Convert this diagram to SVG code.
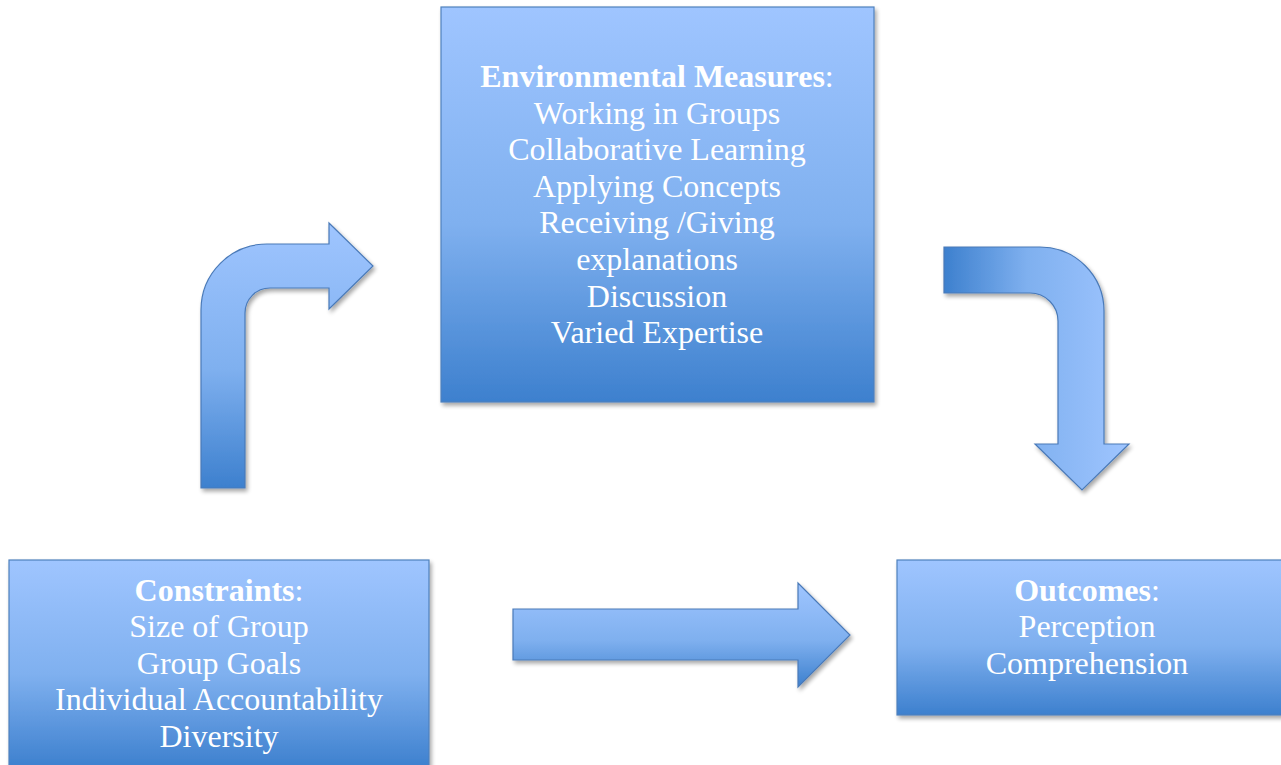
<svg xmlns="http://www.w3.org/2000/svg" width="1281" height="765" viewBox="0 0 1281 765">
  <defs>
    <linearGradient id="gradV" x1="0" y1="0" x2="0" y2="1">
      <stop offset="0" stop-color="#9fc5ff"/>
      <stop offset="0.55" stop-color="#7fb0ef"/>
      <stop offset="1" stop-color="#3d80ce"/>
    </linearGradient>
    <linearGradient id="gradH" x1="0" y1="0" x2="1" y2="0">
      <stop offset="0" stop-color="#3d80ce"/>
      <stop offset="0.45" stop-color="#7fb0ef"/>
      <stop offset="1" stop-color="#9fc5ff"/>
    </linearGradient>
    <filter id="shadow" x="-5%" y="-5%" width="115%" height="115%">
      <feGaussianBlur in="SourceAlpha" stdDeviation="2"/>
      <feOffset dx="2" dy="3" result="off"/>
      <feComponentTransfer><feFuncA type="linear" slope="0.35"/></feComponentTransfer>
      <feMerge><feMergeNode/><feMergeNode in="SourceGraphic"/></feMerge>
    </filter>
  </defs>
  <style>
    .box { fill: url(#gradV); stroke: #4f81bd; stroke-width: 1.2; filter: url(#shadow); }
    .arrow { stroke: #4a7ab8; stroke-width: 1.2; stroke-linejoin: miter; filter: url(#shadow); }
    .label { font-family: "Liberation Serif", "Times New Roman", serif; font-size: 32px; fill: #ffffff; text-anchor: middle; }
    .title { font-weight: bold; }
  </style>

  <rect width="1281" height="765" fill="#ffffff"/>

  <!-- connectors -->
  <g id="connectors">
    <path class="arrow" fill="url(#gradV)" d="M 201 488 L 201 310 A 66 66 0 0 1 267 244 L 329 244 L 329 223 L 373 266 L 329 309 L 329 288 L 270 288 A 25 25 0 0 0 245 313 L 245 488 Z"/>
    <path class="arrow" fill="url(#gradH)" d="M 944 247 L 1040 247 A 64 64 0 0 1 1104 311 L 1104 444 L 1129 444 L 1082 490 L 1035 444 L 1058 444 L 1058 321 A 28 28 0 0 0 1030 293 L 944 293 Z"/>
    <path class="arrow" fill="url(#gradV)" d="M 513 609 L 798 609 L 798 583 L 850 635 L 798 687 L 798 660 L 513 660 Z"/>
  </g>

  <!-- environmental measures -->
  <g id="node-environment">
    <rect class="box" x="441" y="7" width="433" height="395"/>
    <text class="label" x="657" y="87"><tspan class="title">Environmental Measures</tspan>:</text>
    <text class="label" x="657" y="124">Working in Groups</text>
    <text class="label" x="657" y="160">Collaborative Learning</text>
    <text class="label" x="657" y="197">Applying Concepts</text>
    <text class="label" x="657" y="233">Receiving /Giving</text>
    <text class="label" x="657" y="270">explanations</text>
    <text class="label" x="657" y="307">Discussion</text>
    <text class="label" x="657" y="343">Varied Expertise</text>
  </g>

  <!-- constraints -->
  <g id="node-constraints">
    <rect class="box" x="9" y="560" width="420" height="208"/>
    <text class="label" x="219" y="601"><tspan class="title">Constraints</tspan>:</text>
    <text class="label" x="219" y="637">Size of Group</text>
    <text class="label" x="219" y="674">Group Goals</text>
    <text class="label" x="219" y="710">Individual Accountability</text>
    <text class="label" x="219" y="747">Diversity</text>
  </g>

  <!-- outcomes -->
  <g id="node-outcomes">
    <rect class="box" x="897" y="560" width="390" height="155"/>
    <text class="label" x="1087" y="601"><tspan class="title">Outcomes</tspan>:</text>
    <text class="label" x="1087" y="637">Perception</text>
    <text class="label" x="1087" y="674">Comprehension</text>
  </g>
</svg>
